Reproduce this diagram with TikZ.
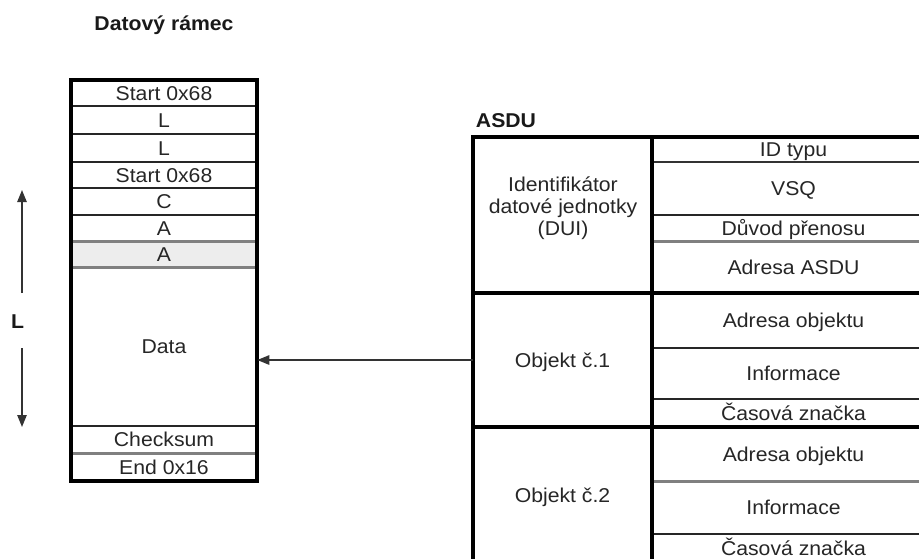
\documentclass[tikz,border=0pt]{standalone}
\usepackage{fontspec}
\setmainfont{Liberation Sans}[FakeStretch=1.06]
\usetikzlibrary{arrows.meta}
\begin{document}
\begin{tikzpicture}[x=0.75pt,y=-0.75pt,
  txt/.style={font=\fontsize{15}{14.6}\selectfont, text=black!85, align=center, text height=10.8pt, text depth=0pt},
  mtxt/.style={font=\fontsize{15}{15.4}\selectfont, text=black!85, align=center, inner sep=0pt},
  ttl/.style={font=\bfseries\fontsize{15}{18}\selectfont, text=black!90, inner sep=0pt},
  lcell/.style={txt, draw=none, inner sep=0pt, minimum width=139.5pt},
  dcell/.style={draw=none, inner sep=0pt, minimum width=134.25pt},
  rcell/.style={txt, draw=none, inner sep=0pt, minimum width=212.25pt},
  darkline/.style={line width=1.7pt, draw=black!85},
  thinline/.style={line width=1.3pt, draw=black!80},
  grayline/.style={line width=2pt, draw=black!50},
  frameline/.style={line width=2.7pt, draw=black},
  arr/.style={line width=1.2pt, draw=black!80, -{Triangle[length=9pt,width=7pt]}}
]
\useasboundingbox (0,0) rectangle (919,558);
\clip (0,0) rectangle (919,558);

% titles
\node[ttl] (title) at (164,25) {Datový rámec};
\node[ttl] (asdu) at (506,121) {ASDU};

% left frame
\node[lcell, minimum height=19.5pt] (s1) at (164,93) {Start 0x68};
\node[lcell, minimum height=21pt] (l1) at (164,120) {L};
\node[lcell, minimum height=21pt] (l2) at (164,148) {L};
\node[lcell, minimum height=19.5pt] (s2) at (164,175) {Start 0x68};
\node[lcell, minimum height=20.25pt] (c) at (164,201.5) {C};
\node[lcell, minimum height=19.5pt] (a1) at (164,228) {A};
\node[lcell, minimum height=19.5pt, fill=black!7] (a2) at (164,254) {A};
\node[lcell, minimum height=119.25pt] (data) at (164,346.5) {Data};
\node[lcell, minimum height=20.25pt] (chk) at (164,439.5) {Checksum};
\node[lcell, minimum height=21pt] (end) at (164,467) {End 0x16};

\draw[darkline] (s1.south west) -- (s1.south east);
\draw[darkline] (l1.south west) -- (l1.south east);
\draw[darkline] (l2.south west) -- (l2.south east);
\draw[darkline] (s2.south west) -- (s2.south east);
\draw[darkline] (c.south west) -- (c.south east);
\draw[grayline] (a1.south west) -- (a1.south east);
\draw[grayline] (a2.south west) -- (a2.south east);
\draw[darkline] (data.south west) -- (data.south east);
\draw[grayline] (chk.south west) -- (chk.south east);
\draw[frameline] (s1.north west) rectangle (end.south east);

% L arrows
\node[ttl] (Lb) at (17.5,322) {L};
\coordinate (upbot) at (22,293);
\coordinate (uptop) at (22,190);
\coordinate (dntop) at (22,348);
\coordinate (dnbot) at (22,427);
\draw[arr] (upbot) -- (uptop);
\draw[arr] (dntop) -- (dnbot);

% ASDU table, left column
\node[dcell, minimum height=117pt] (dui) at (562.5,215) {};
\node[mtxt] (duitext) at (563,208) {Identifikátor\\[1.2pt]datové jednotky\\[1.2pt](DUI)};
\node[dcell, txt, minimum height=100.5pt] (obj1) at (562.5,360) {Objekt č.1};
\node[dcell, txt, minimum height=102pt] (obj2) at (562.5,495) {Objekt č.2};

% ASDU table, right column
\node[rcell, minimum height=18.75pt] (idt) at (793.5,149.5) {ID typu};
\node[rcell, minimum height=39.75pt] (vsq) at (793.5,188.5) {VSQ};
\node[rcell, minimum height=19.5pt] (duv) at (793.5,228) {Důvod přenosu};
\node[rcell, minimum height=39pt] (adr) at (793.5,267) {Adresa ASDU};
\node[rcell, minimum height=41.25pt] (ao1) at (793.5,320.5) {Adresa objektu};
\node[rcell, minimum height=38.25pt] (inf1) at (793.5,373.5) {Informace};
\node[rcell, minimum height=21pt] (cas1) at (793.5,413) {Časová značka};
\node[rcell, minimum height=40.5pt] (ao2) at (793.5,454) {Adresa objektu};
\node[rcell, minimum height=39.75pt] (inf2) at (793.5,507.5) {Informace};
\node[rcell, minimum height=21.75pt] (cas2) at (793.5,548.5) {Časová značka};

\draw[thinline] (idt.south west) -- (idt.south east);
\draw[darkline] (vsq.south west) -- (vsq.south east);
\draw[grayline] (duv.south west) -- (duv.south east);
\draw[darkline] (ao1.south west) -- (ao1.south east);
\draw[darkline] (inf1.south west) -- (inf1.south east);
\draw[grayline] (ao2.south west) -- (ao2.south east);
\draw[darkline] (inf2.south west) -- (inf2.south east);

\draw[frameline] (dui.south west) -- (adr.south east);
\draw[frameline] (obj1.south west) -- (cas1.south east);
\draw[frameline] (dui.north east) -- (obj2.south east);
\draw[frameline] (dui.north west) rectangle (cas2.south east);

% connector
\draw[arr] (obj1.west) -- (obj1.west -| data.east);
\end{tikzpicture}
\end{document}
